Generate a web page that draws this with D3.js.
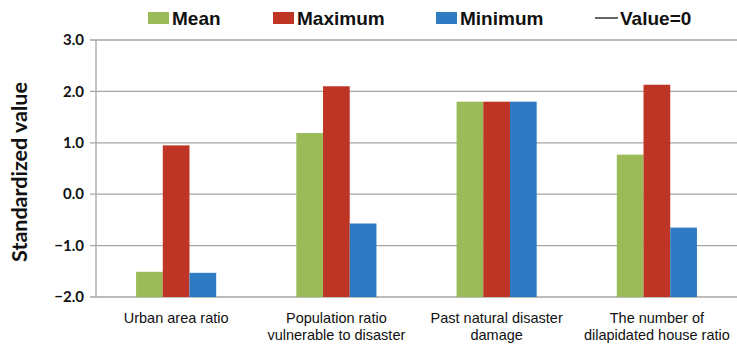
<!DOCTYPE html>
<html><head><meta charset="utf-8">
<script src="https://cdn.jsdelivr.net/npm/d3@7"></script>
<style>body{margin:0;background:#fff}svg{display:block}</style>
</head><body><svg id="c" width="737" height="347"></svg>
<script>
const categories = [["Urban area ratio"], ["Population ratio", "vulnerable to disaster"], ["Past natural disaster", "damage"], ["The number of", "dilapidated house ratio"]];
const seriesNames = ["Mean", "Maximum", "Minimum"];
const meanVals = [-1.51, 1.19, 1.80, 0.77];
const maxVals = [0.95, 2.10, 1.80, 2.13];
const minVals = [-1.53, -0.57, 1.80, -0.65];
const yTicks = [-2, -1, 0, 1, 2, 3];
const colors = ["#9bbb59", "#be3526", "#2e7bc4"];

const series = [meanVals, maxVals, minVals];
const svg = d3.select("#c");
const m = {l: 96, r: 737, t: 40, b: 297};
const x = d3.scaleBand().domain(d3.range(categories.length)).range([m.l, m.r]).paddingInner(0.5).paddingOuter(0.25);
const xs = d3.scaleBand().domain(d3.range(series.length)).range([0, x.bandwidth()]);
const y = d3.scaleLinear().domain([-2, 3]).range([m.b, m.t]);
const base = -2;

// gridlines (the 0.0 line doubles as the Value=0 series)
svg.append("g").selectAll("line").data(yTicks).join("line")
  .attr("x1", m.l - 6).attr("x2", m.r).attr("y1", d => y(d)).attr("y2", d => y(d))
  .attr("stroke", "#a6a6a6").attr("stroke-width", 1.3);
svg.append("line").attr("x1", m.l).attr("x2", m.l).attr("y1", m.t).attr("y2", m.b)
  .attr("stroke", "#a6a6a6").attr("stroke-width", 1.3);

// y tick labels
svg.append("g").selectAll("text").data(yTicks).join("text")
  .attr("x", m.l - 12).attr("y", d => y(d)).attr("dy", "0.35em").attr("text-anchor", "end")
  .attr("font-family", "Lato, 'Open Sans', sans-serif").attr("font-weight", "bold").attr("font-size", 15)
  .attr("fill", "#111").text(d => d3.format(".1f")(d));

// bars (drawn up from the axis crossing at -2)
series.forEach((vals, si) => {
  svg.append("g").selectAll("rect").data(vals).join("rect")
    .attr("x", (d, i) => x(i) + xs(si)).attr("width", xs.bandwidth())
    .attr("y", d => y(d)).attr("height", d => y(base) - y(d))
    .attr("fill", colors[si]);
});

// category labels
const cat = svg.append("g").selectAll("text").data(categories).join("text")
  .attr("text-anchor", "middle")
  .attr("font-family", "'Liberation Sans Narrow', 'Arial Narrow', sans-serif").attr("font-size", 14.5)
  .attr("fill", "#111");
cat.each(function(lines, i) {
  const t = d3.select(this);
  lines.forEach((ln, k) => t.append("tspan").attr("x", x(i) + x.bandwidth() / 2).attr("y", 323 + k * 17).text(ln));
});

// y title
svg.append("text").attr("transform", "translate(27,172) rotate(-90)").attr("text-anchor", "middle")
  .attr("font-family", "Lato, 'Open Sans', sans-serif").attr("font-weight", "bold").attr("font-size", 21.5)
  .attr("fill", "#111").text("Standardized value");

// legend
const legX = [148, 273, 436];
const lf = "'Liberation Sans Narrow', 'Arial Narrow', sans-serif";
seriesNames.forEach((n, i) => {
  svg.append("rect").attr("x", legX[i]).attr("y", 12).attr("width", 21).attr("height", 12).attr("fill", colors[i]);
  svg.append("text").attr("x", legX[i] + 24).attr("y", 24.5).attr("font-family", lf).attr("font-weight", "bold")
    .attr("font-size", 19).attr("fill", "#111").text(n);
});
svg.append("line").attr("x1", 595).attr("x2", 618).attr("y1", 18).attr("y2", 18).attr("stroke", "#111").attr("stroke-width", 1.3);
svg.append("text").attr("x", 620).attr("y", 24.5).attr("font-family", lf).attr("font-weight", "bold")
  .attr("font-size", 19).attr("fill", "#111").text("Value=0");
</script></body></html>
